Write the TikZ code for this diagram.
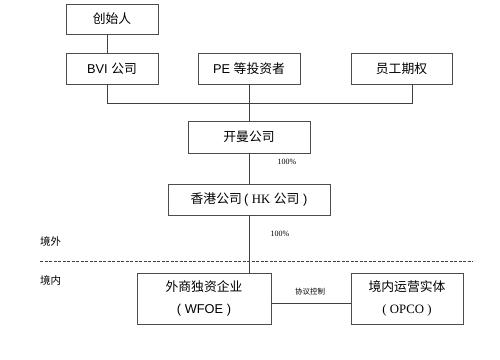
\documentclass[tikz,border=0pt]{standalone}
\usepackage{fontspec}
\setmainfont{Liberation Sans}
\newfontfamily\cjk{Noto Sans CJK SC}
\newfontfamily\serif{Liberation Serif}
\begin{document}
\begin{tikzpicture}[x=1pt,y=-1pt,
  box/.style={draw=black!70,line width=0.8pt,fill=white,inner sep=0pt,font=\fontsize{12.8}{14}\selectfont},
  conn/.style={draw=black!75,line width=0.9pt},
  small/.style={font=\serif\fontsize{8}{9}\selectfont,inner sep=0pt},
  lab/.style={font=\cjk\fontsize{10.5}{12}\selectfont,inner sep=0pt}]
\useasboundingbox (0,0) rectangle (500,359);
\node[box,minimum width=92pt,minimum height=30pt] (founder) at (112,19) {\cjk 创始人};
\node[box,minimum width=92pt,minimum height=31pt] (bvi) at (112,68.5) {BVI {\cjk 公司}};
\node[box,minimum width=102pt,minimum height=31pt] (pe) at (249,68.5) {PE {\cjk 等投资者}};
\node[box,minimum width=101pt,minimum height=31pt] (esop) at (401.5,68.5) {\cjk 员工期权};
\node[box,minimum width=122pt,minimum height=32pt] (cayman) at (249,137) {\cjk 开曼公司};
\node[box,minimum width=162pt,minimum height=31pt] (hk) at (249,199.5) {{\cjk 香港公司}\,( {\serif HK} {\cjk 公司} )};
\node[box,minimum width=134pt,minimum height=51pt,align=center] (wfoe) at (204,298.5) {{\cjk 外商独资企业}\\[8pt]( WFOE )};
\node[box,minimum width=112pt,minimum height=51pt,align=center] (opco) at (407,298.5) {{\cjk 境内运营实体}\\[8pt]{\serif ( OPCO )}};
\coordinate (bus) at (249,103);
\draw[conn] (107,34) -- (107,53);
\draw[conn] (107,84) |- (bus);
\draw[conn] (412,84) |- (bus);
\draw[conn] (pe.south) -- (cayman.north);
\draw[conn] (cayman.south) -- (hk.north);
\draw[conn] (hk.south) -- (wfoe.north -| hk.south);
\draw[conn] (wfoe.east |- 0,303) -- (opco.west |- 0,303);
\draw[black!75,dashed,dash pattern=on 3pt off 1.5pt,line width=0.6pt] (40,261) -- (473,261);
\node[small] (p1) at (287,162) {100\%};
\node[small] (p2) at (280,234) {100\%};
\node[lab,anchor=west] (out) at (40,241) {境外};
\node[lab,anchor=west] (in) at (40,280) {境内};
\node[lab,font=\cjk\fontsize{7.5}{9}\selectfont] (ctrl) at (310,292) {协议控制};
\end{tikzpicture}
\end{document}
